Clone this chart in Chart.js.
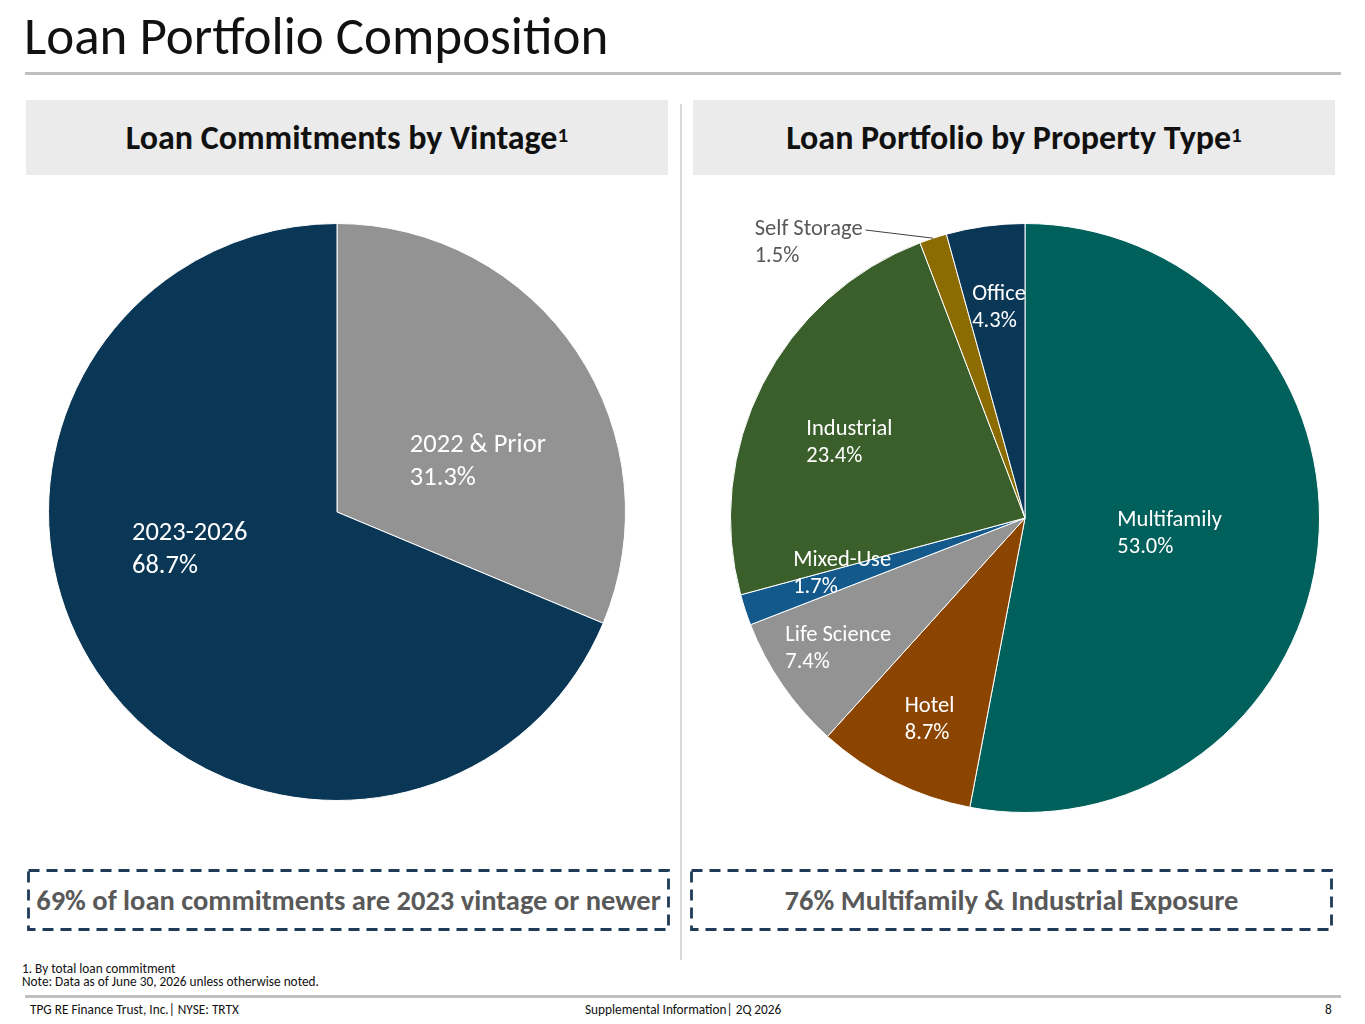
<!DOCTYPE html>
<html>
<head>
<meta charset="utf-8">
<script src="https://cdn.jsdelivr.net/npm/chart.js@4.4.1/dist/chart.umd.min.js"></script>
<style>
  body { margin: 0; width: 1365px; height: 1024px; background: #fff; position: relative; overflow: hidden;
         font-family: Carlito, Calibri, "Open Sans", sans-serif; }
  .abs { position: absolute; }
  #title { left: 24px; top: 6px; font-size: 53px; line-height: 60px; color: #111; white-space: nowrap; }
  .rule { background: #bfbfbf; }
  .hdr { background: #ebebeb; height: 75px; top: 100px; display: flex; align-items: center; justify-content: center;
         font-weight: bold; font-size: 34px; color: #111; }
  .hdr sup { font-size: 21px; position: relative; top: -3px; }
  .callout { top: 869px; height: 62px; width: 643px; }
  .callout div { position: absolute; left: 0; right: 0; top: 0; bottom: 0; display: flex; align-items: center;
                 justify-content: center; font-weight: bold; font-size: 28.5px; color: #595959; white-space: nowrap; }
  .small { font-size: 13.3px; line-height: 14px; color: #111; white-space: nowrap; }
</style>
</head>
<body>
<div id="title" class="abs">Loan Portfolio Composition</div>
<div class="abs rule" style="left:25px;top:72px;width:1316px;height:3px;"></div>

<div class="abs hdr" style="left:26px;width:642px;">Loan Commitments by Vintage<sup>1</sup></div>
<div class="abs hdr" style="left:693px;width:642px;">Loan Portfolio by Property Type<sup>1</sup></div>
<div class="abs" style="left:680px;top:104px;width:2px;height:856px;background:#d9d9d9;"></div>

<canvas id="vintageChart" class="abs" width="620" height="620" style="left:27px;top:202px;"></canvas>
<canvas id="propertyChart" class="abs" width="650" height="640" style="left:690px;top:195px;"></canvas>

<div class="abs callout" style="left:27px;">
  <svg width="643" height="62"><rect x="1.5" y="1.5" width="640" height="59" fill="none" stroke="#1f3b57" stroke-width="2.8" stroke-dasharray="11 7"/></svg>
  <div>69% of loan commitments are 2023 vintage or newer</div>
</div>
<div class="abs callout" style="left:690px;">
  <svg width="643" height="62"><rect x="1.5" y="1.5" width="640" height="59" fill="none" stroke="#1f3b57" stroke-width="2.8" stroke-dasharray="11 7"/></svg>
  <div>76% Multifamily &amp; Industrial Exposure</div>
</div>

<div class="abs small" style="left:22px;top:962px;">1. By total loan commitment</div>
<div class="abs small" style="left:22px;top:975px;">Note: Data as of June 30, 2026 unless otherwise noted.</div>
<div class="abs rule" style="left:25px;top:995px;width:1316px;height:3px;"></div>
<div class="abs small" style="left:30px;top:1003px;">TPG RE Finance Trust, Inc.| NYSE: TRTX</div>
<div class="abs small" style="left:585px;top:1003px;">Supplemental Information| 2Q 2026</div>
<div class="abs small" style="left:1325px;top:1003px;">8</div>

<script>
// Vintage split
const vintageLabels = ['2022 & Prior', '2023-2026'];
const vintageValues = [31.3, 68.7];
const vintageColors = ['#939393', '#0b3756'];

// Property type split (clockwise from 12 o'clock)
const propertyLabels = ['Multifamily', 'Hotel', 'Life Science', 'Mixed-Use', 'Industrial', 'Self Storage', 'Office'];
const propertyValues = [53.0, 8.7, 7.4, 1.7, 23.4, 1.5, 4.3];
const propertyColors = ['#00605b', '#8c4500', '#939393', '#14598b', '#3a5f2b', '#8c6b00', '#0b3756'];

const FONT = 'Carlito, Calibri, "Open Sans", sans-serif';

// draws "Name / xx.x%" labels on each slice
const sliceLabels = {
    id: 'sliceLabels',
    afterDatasetsDraw(chart, args, opts) {
        const ctx = chart.ctx;
        const arcs = chart.getDatasetMeta(0).data;
        const values = chart.data.datasets[0].data;
        ctx.save();
        ctx.font = opts.size + 'px ' + FONT;
        ctx.textBaseline = 'middle';
        ctx.textAlign = 'left';
        arcs.forEach((arc, i) => {
            const p = arc.getProps(['x', 'y', 'startAngle', 'endAngle', 'outerRadius'], true);
            const mid = (p.startAngle + p.endAngle) / 2;
            const f = opts.radius[i];
            const nudge = opts.nudge[i] || [0, 0];
            const cx = p.x + Math.cos(mid) * p.outerRadius * f + nudge[0];
            const cy = p.y + Math.sin(mid) * p.outerRadius * f + nudge[1] + 2.5;
            const lines = [chart.data.labels[i], values[i].toFixed(1) + '%'];
            const w = Math.max(...lines.map(l => ctx.measureText(l).width));
            const left = cx - w / 2;
            const outside = opts.outside && opts.outside[i];
            ctx.fillStyle = outside ? '#595959' : '#fff';
            ctx.fillText(lines[0], left, cy - opts.gap / 2);
            ctx.fillText(lines[1], left, cy + opts.gap / 2);
            if (outside) {
                // leader line from label to slice edge
                const ex = p.x + Math.cos(mid) * p.outerRadius;
                const ey = p.y + Math.sin(mid) * p.outerRadius;
                ctx.strokeStyle = '#404040';
                ctx.lineWidth = 1;
                ctx.beginPath();
                ctx.moveTo(left + w + 3, cy - opts.gap / 2 + 1);
                ctx.lineTo(ex, ey);
                ctx.stroke();
            }
        });
        ctx.restore();
    }
};

function pieOptions(padding, labelOpts) {
    return {
        responsive: false,
        animation: false,
        layout: { padding: padding },
        plugins: {
            legend: { display: false },
            tooltip: { enabled: false },
            sliceLabels: labelOpts
        }
    };
}

new Chart(document.getElementById('vintageChart'), {
    type: 'pie',
    data: {
        labels: vintageLabels,
        datasets: [{ data: vintageValues, backgroundColor: vintageColors, borderColor: '#fff', borderWidth: 1 }]
    },
    options: pieOptions({ left: 21, top: 21, right: 21, bottom: 21 }, {
        size: 26.5, gap: 33,
        radius: [0.52, 0.53],
        nudge: [[16, 31], [-20, -49]]
    }),
    plugins: [sliceLabels]
});

new Chart(document.getElementById('propertyChart'), {
    type: 'pie',
    data: {
        labels: propertyLabels,
        datasets: [{ data: propertyValues, backgroundColor: propertyColors, borderColor: '#fff', borderWidth: 1 }]
    },
    options: pieOptions({ left: 40, top: 28, right: 20, bottom: 22 }, {
        size: 22.5, gap: 27,
        radius: [0.5, 0.75, 0.77, 0.65, 0.65, 1.19, 0.73],
        nudge: [[-2, 0], [3, 2], [0, 0], [-1, -6], [-5, 9], [-107, 55], [3, 0]],
        outside: [false, false, false, false, false, true, false]
    }),
    plugins: [sliceLabels]
});
</script>
</body>
</html>
